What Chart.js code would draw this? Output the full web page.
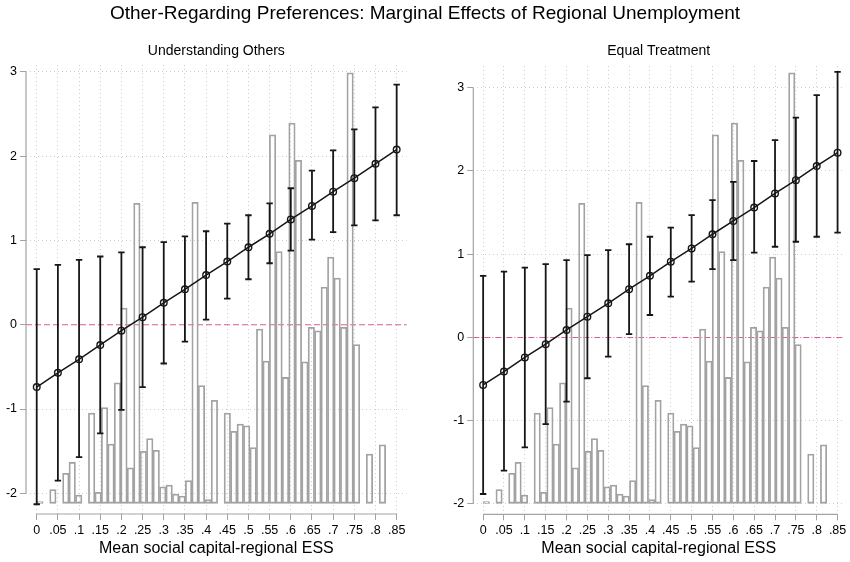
<!DOCTYPE html>
<html>
<head>
<meta charset="utf-8">
<script src="https://cdn.jsdelivr.net/npm/chart.js@4/dist/chart.umd.min.js"></script>
<style>
  html, body { margin: 0; padding: 0; background: #ffffff; }
  #wrap { position: relative; width: 850px; height: 562px; overflow: hidden; background: #fff; }
  #mainTitle { position: absolute; left: 0; top: 0; width: 850px; text-align: center;
    font-family: "Liberation Sans", Arial, Helvetica, sans-serif; font-size: 19px; line-height: 26px; color: #000; z-index: 2; }
  canvas { position: absolute; top: 0; }
</style>
</head>
<body>
<div id="wrap">
  <div id="mainTitle">Other-Regarding Preferences: Marginal Effects of Regional Unemployment</div>
  <canvas id="c1" width="425" height="562" style="left:0px"></canvas>
  <canvas id="c2" width="425" height="562" style="left:425px"></canvas>
</div>
<script>
// ---------------- DATA ----------------
const xAxisTicks = [0, 0.05, 0.1, 0.15, 0.2, 0.25, 0.3, 0.35, 0.4, 0.45, 0.5, 0.55, 0.6, 0.65, 0.7, 0.75, 0.8, 0.85];
const xTickLabels = ['0', '.05', '.1', '.15', '.2', '.25', '.3', '.35', '.4', '.45', '.5', '.55', '.6', '.65', '.7', '.75', '.8', '.85'];
const yAxisTicks = [-2, -1, 0, 1, 2, 3];
const yTickLabels = ['-2', '-1', '0', '1', '2', '3'];

// points at which the marginal effect is evaluated
const evalPoints = [0, 0.05, 0.1, 0.15, 0.2, 0.25, 0.3, 0.35, 0.4, 0.45, 0.5, 0.55, 0.6, 0.65, 0.7, 0.75, 0.8, 0.85];

// Panel 1: Understanding Others
const understandME = [-0.74, -0.57, -0.41, -0.24, -0.07, 0.09, 0.26, 0.42, 0.59, 0.75, 0.92, 1.08, 1.25, 1.41, 1.58, 1.74, 1.91, 2.08];
const understandHi = [0.66, 0.71, 0.77, 0.81, 0.86, 0.92, 0.98, 1.05, 1.11, 1.20, 1.30, 1.44, 1.62, 1.83, 2.07, 2.32, 2.58, 2.85];
const understandLo = [-2.13, -1.85, -1.57, -1.29, -1.01, -0.74, -0.46, -0.20, 0.06, 0.31, 0.54, 0.73, 0.88, 1.01, 1.10, 1.18, 1.24, 1.30];

// Panel 2: Equal Treatment
const equalME = [-0.57, -0.41, -0.24, -0.08, 0.09, 0.25, 0.41, 0.58, 0.74, 0.91, 1.07, 1.24, 1.40, 1.56, 1.73, 1.89, 2.06, 2.22];
const equalHi = [0.74, 0.79, 0.84, 0.88, 0.93, 0.99, 1.05, 1.12, 1.21, 1.32, 1.47, 1.65, 1.87, 2.12, 2.37, 2.64, 2.91, 3.19];
const equalLo = [-1.88, -1.60, -1.32, -1.04, -0.77, -0.49, -0.23, 0.04, 0.27, 0.49, 0.67, 0.82, 0.93, 1.02, 1.09, 1.15, 1.21, 1.26];

// Histogram of mean social capital (bin centres and density)
const histBinCenters = [0.0076, 0.0229, 0.0382, 0.0534, 0.0687, 0.0839, 0.0992, 0.1144, 0.1297, 0.1450,
  0.1602, 0.1755, 0.1907, 0.2060, 0.2213, 0.2365, 0.2518, 0.2670, 0.2823, 0.2976,
  0.3128, 0.3281, 0.3433, 0.3586, 0.3739, 0.3891, 0.4044, 0.4196, 0.4349, 0.4501,
  0.4654, 0.4807, 0.4959, 0.5112, 0.5264, 0.5417, 0.5570, 0.5722, 0.5875, 0.6027,
  0.6180, 0.6333, 0.6485, 0.6638, 0.6790, 0.6943, 0.7095, 0.7248, 0.7401, 0.7553,
  0.7706, 0.7858, 0.8011, 0.8164];
const histDensity = [0.02, 0, 0.15, 0, 0.33, 0.45, 0.09, 0, 0.99, 0.12,
  1.05, 0.65, 1.32, 2.14, 0.39, 3.29, 0.57, 0.71, 0.58, 0.18,
  0.20, 0.10, 0.08, 0.25, 3.30, 1.29, 0.04, 1.13, 0, 0.99,
  0.79, 0.87, 0.85, 0.61, 1.91, 1.56, 4.04, 2.76, 1.38, 4.17,
  3.76, 1.55, 1.93, 1.89, 2.37, 2.70, 2.47, 1.93, 4.72, 1.74,
  0, 0.54, 0, 0.64];

// ---------------- STYLE ----------------
const FONT = '"Liberation Sans", Arial, Helvetica, sans-serif';
const GRID = '#cfcfcf';
const AXIS = '#a3a3a3';
const INK = '#161616';
const HIST = '#a2a2a2';
const REF = '#dc5c9b';

const axisLines = {
  id: 'axisLines',
  beforeDatasetsDraw(chart) {
    const { ctx, chartArea: a, scales: { x, y } } = chart;
    ctx.save();
    ctx.strokeStyle = AXIS;
    ctx.lineWidth = 1.2;
    ctx.setLineDash([]);
    ctx.beginPath();
    const yTop = y.getPixelForValue(yAxisTicks[yAxisTicks.length - 1]);
    const yBot = y.getPixelForValue(yAxisTicks[0]);
    ctx.moveTo(a.left, yTop);
    ctx.lineTo(a.left, yBot);
    const xL = x.getPixelForValue(xAxisTicks[0]);
    const xR = x.getPixelForValue(xAxisTicks[xAxisTicks.length - 1]);
    ctx.moveTo(xL, a.bottom);
    ctx.lineTo(xR, a.bottom);
    ctx.stroke();
    ctx.restore();
  }
};

function makeZeroLine(dash) {
  return {
    id: 'zeroLine',
    beforeDatasetsDraw(chart) {
      const { ctx, chartArea: a, scales: { y } } = chart;
      const py = y.getPixelForValue(0);
      ctx.save();
      ctx.strokeStyle = REF;
      ctx.lineWidth = 1.2;
      ctx.setLineDash(dash);
      ctx.beginPath();
      ctx.moveTo(a.left, py);
      ctx.lineTo(a.right, py);
      ctx.stroke();
      ctx.restore();
    }
  };
}

function makePanel(canvasId, title, me, hi, lo, geom) {
  const estData = evalPoints.map((x, i) => ({ x: x, y: me[i] }));
  const ciData = [];
  evalPoints.forEach((x, i) => { ciData.push({ x: x, y: lo[i] }, { x: x, y: hi[i] }, { x: x, y: null }); });
  const capHi = evalPoints.map((x, i) => ({ x: x, y: hi[i] }));
  const capLo = evalPoints.map((x, i) => ({ x: x, y: lo[i] }));
  const histData = histBinCenters.map((x, i) => ({ x: x, y: histDensity[i] > 0 ? histDensity[i] : null }));

  return new Chart(document.getElementById(canvasId), {
    type: 'scatter',
    data: {
      datasets: [
        { type: 'line', label: 'Marginal effect', data: estData, order: 1,
          borderColor: INK, borderWidth: 1.5, tension: 0,
          pointStyle: 'circle', pointRadius: 3.3, pointBorderWidth: 1.4,
          pointBorderColor: INK, pointBackgroundColor: 'rgba(0,0,0,0)', yAxisID: 'y' },
        { type: 'scatter', label: 'CI upper cap', data: capHi, order: 2, showLine: false,
          pointStyle: 'line', pointRadius: 3.2, borderWidth: 1.8, pointBorderColor: INK, borderColor: INK, yAxisID: 'y' },
        { type: 'scatter', label: 'CI lower cap', data: capLo, order: 2, showLine: false,
          pointStyle: 'line', pointRadius: 3.2, borderWidth: 1.8, pointBorderColor: INK, borderColor: INK, yAxisID: 'y' },
        { type: 'line', label: '95% CI', data: ciData, order: 3, spanGaps: false,
          borderColor: INK, borderWidth: 1.8, pointRadius: 0, yAxisID: 'y' },
        { type: 'bar', label: 'Histogram', data: histData, order: 5, yAxisID: 'y2',
          backgroundColor: 'rgba(255,255,255,0)', borderColor: HIST, borderWidth: 1.1,
          borderSkipped: false, barPercentage: 1, categoryPercentage: 1, grouped: false }
      ]
    },
    options: {
      responsive: false,
      animation: false,
      devicePixelRatio: 1,
      layout: { padding: { top: 0, left: geom.padLeft, right: geom.padRight, bottom: 0 } },
      plugins: {
        legend: { display: false },
        tooltip: { enabled: false },
        title: {
          display: true, text: title, fullSize: false, color: '#000',
          font: { family: FONT, size: 14, weight: 'normal', lineHeight: 1.2 },
          padding: { top: geom.titleTop, bottom: geom.titleBottom }
        }
      },
      scales: {
        x: {
          type: 'linear', position: 'bottom', min: geom.xMin, max: geom.xMax, offset: false,
          afterBuildTicks: s => { s.ticks = xAxisTicks.map(v => ({ value: v })); },
          afterFit: s => { s.height = geom.xHeight; s.paddingLeft = 0; s.paddingRight = 0; },
          ticks: { autoSkip: false, maxRotation: 0, minRotation: 0, padding: 3, color: '#000',
            font: { family: FONT, size: 12.5 }, callback: (v, i) => xTickLabels[i] },
          grid: { display: true, offset: false, color: GRID, lineWidth: 1, drawTicks: true,
            tickLength: 6, tickColor: AXIS, tickWidth: 1, tickBorderDash: [] },
          border: { display: false, dash: [1, 3] },
          title: { display: true, text: 'Mean social capital-regional ESS', color: '#000',
            font: { family: FONT, size: 16 }, padding: { top: 0, bottom: 4 } }
        },
        y: {
          type: 'linear', position: 'left', min: geom.yMin, max: geom.yMax,
          afterBuildTicks: s => { s.ticks = yAxisTicks.map(v => ({ value: v })); },
          afterFit: s => { s.width = geom.yWidth; s.paddingTop = 0; s.paddingBottom = 0; },
          ticks: { autoSkip: false, padding: 3, color: '#000',
            font: { family: FONT, size: 12.5 }, callback: (v, i) => yTickLabels[i] },
          grid: { display: true, lineWidth: 1, drawTicks: true, tickLength: 6,
            tickColor: AXIS, tickWidth: 1, tickBorderDash: [],
            color: c => (c.tick && c.tick.value === 0) ? 'rgba(255,255,255,0)' : GRID },
          border: { display: false, dash: [1, 3] }
        },
        y2: {
          type: 'linear', position: 'right', display: false, min: geom.y2Min, max: geom.y2Max,
          grid: { display: false }
        }
      }
    },
    plugins: [makeZeroLine(geom.dash), axisLines]
  });
}

makePanel('c1', 'Understanding Others', understandME, understandHi, understandLo, {
  padLeft: 0, padRight: 18.3, yWidth: 26, xHeight: 48,
  titleTop: 42.6, titleBottom: 5.6,
  xMin: -0.0253, xMax: 0.8737, yMin: -2.246, yMax: 3.083,
  y2Min: -0.1173, y2Max: 4.806, dash: [6, 3]
});

makePanel('c2', 'Equal Treatment', equalME, equalHi, equalLo, {
  padLeft: 22.3, padRight: 0, yWidth: 26, xHeight: 47.7,
  titleTop: 42.6, titleBottom: 6.6,
  xMin: -0.0236, xMax: 0.8659, yMin: -2.124, yMax: 3.261,
  y2Min: -0.1206, y2Max: 4.795, dash: [6, 2, 1, 2]
});
</script>
</body>
</html>
